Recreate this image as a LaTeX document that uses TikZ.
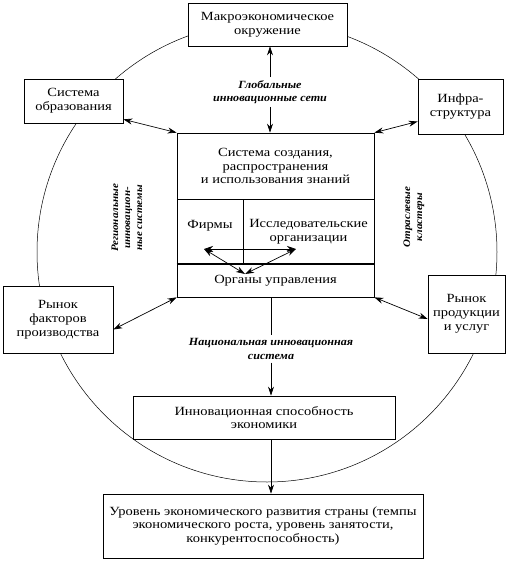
\documentclass[tikz,border=0pt]{standalone}
\usepackage{fontspec}
\setmainfont[FakeStretch=1.16]{Liberation Serif}
\newfontfamily\tagfont[FakeStretch=1.1]{Liberation Serif}
\usetikzlibrary{arrows.meta}
\begin{document}
\begin{tikzpicture}[
    x=1pt, y=-1pt,
    font=\fontsize{12.5}{13.8}\selectfont,
    box/.style={rectangle, draw, fill=white, line width=0.7pt, inner sep=0pt, align=center},
    tag/.style={font=\tagfont\fontsize{11}{13.5}\selectfont\bfseries\itshape, align=center, inner sep=3pt},
    sidetag/.style={tag, rotate=90, font=\tagfont\fontsize{10}{12}\selectfont\bfseries\itshape},
    arrow/.style={-{Stealth[length=9pt, width=6pt]}, line width=0.7pt},
    dbl/.style={{Stealth[length=9pt, width=6pt]}-{Stealth[length=9pt, width=6pt]}, line width=0.7pt}
]
    \useasboundingbox (0,0) rectangle (510,563);

    % Circle
    \draw[line width=0.5pt] (267,252) circle (230);

    % Outer boxes
    \node[box, minimum width=159pt, minimum height=43pt] (makro) at (267.5,24.5) {Макроэкономическое\\окружение};
    \node[box, minimum width=99pt, minimum height=44pt] (obraz) at (73.5,101) {Система\\образования};
    \node[box, minimum width=85pt, minimum height=55pt] (infra) at (460.5,106.5) {Инфра-\\структура};
    \node[box, minimum width=110pt, minimum height=67pt] (faktor) at (58,319.5) {Рынок\\факторов\\производства};
    \node[box, minimum width=77pt, minimum height=78pt] (produkt) at (466.5,314) {Рынок\\продукции\\и услуг};

    % Central system
    \node[box, minimum width=197pt, minimum height=66pt] (znan) at (275.5,166) {Система создания,\\распространения\\и использования знаний};
    \node[box, minimum width=66pt, minimum height=65pt] (firms) at (210,231.5) {Фирмы\\\mbox{}};
    \node[box, minimum width=131pt, minimum height=65pt] (issled) at (308.5,231.5) {Исследовательские\\организации};
    \node[box, minimum width=197pt, minimum height=33pt] (organy) at (275.5,280.5) {Органы управления};
    \draw[line width=2pt] (organy.north west) -- (organy.north east);

    % Lower boxes
    \node[box, minimum width=262pt, minimum height=43pt] (sposob) at (264,417.5) {Инновационная способность\\экономики};
    \node[box, minimum width=320pt, minimum height=64pt] (uroven) at (263,526) {Уровень экономического развития страны (темпы\\экономического роста, уровень занятости,\\конкурентоспособность)};

    % Labels
    \node[tag] (global) at (270,92) {Глобальные\\инновационные сети};
    \node[tag] (nacional) at (271,349) {Национальная инновационная\\система};
    \node[sidetag] (region) at (127,218) {Региональные\\инновацион-\\ные системы};
    \node[sidetag] (klaster) at (414,217) {Отраслевые\\кластеры};

    % Inner points
    \coordinate (fa) at (204,249);
    \coordinate (ra) at (296,249);
    \coordinate (oa) at (245,274);

    % Arrows
    \draw[arrow] (global) -- (makro.south -| global);
    \draw[arrow] (global) -- (znan.north -| global);
    \draw[dbl] ([yshift=4pt]obraz.south east) -- (znan.north west);
    \draw[dbl] ([yshift=-15pt]infra.west) -- (znan.north east);
    \draw[dbl] ([yshift=-10pt]faktor.east) -- (organy.south west);
    \draw[dbl] ([yshift=-5pt]produkt.west) -- (organy.south east);
    \draw[line width=0.7pt] (organy.south -| nacional) -- (nacional);
    \draw[arrow] (nacional) -- (sposob.north -| nacional);
    \draw[arrow] (sposob.south -| nacional) -- (uroven.north -| nacional);
    \draw[dbl] (fa) -- (ra);
    \draw[dbl] (fa) -- (oa);
    \draw[dbl] (ra) -- (oa);

\end{tikzpicture}
\end{document}
